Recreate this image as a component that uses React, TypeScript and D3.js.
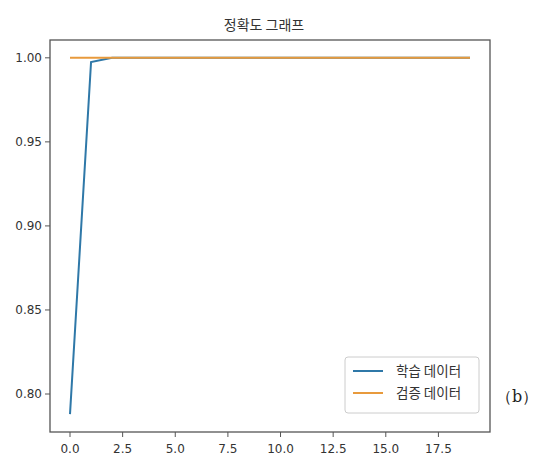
import React from "react";
import * as d3 from "d3";

const epochs = [0, 1, 2, 3, 4, 5, 6, 7, 8, 9, 10, 11, 12, 13, 14, 15, 16, 17, 18, 19];
const trainAcc = [0.788, 0.9975, 1.0, 1.0, 1.0, 1.0, 1.0, 1.0, 1.0, 1.0, 1.0, 1.0, 1.0, 1.0, 1.0, 1.0, 1.0, 1.0, 1.0, 1.0];
const valAcc = [1.0, 1.0, 1.0, 1.0, 1.0, 1.0, 1.0, 1.0, 1.0, 1.0, 1.0, 1.0, 1.0, 1.0, 1.0, 1.0, 1.0, 1.0, 1.0, 1.0];
const xTicks = [0, 2.5, 5, 7.5, 10, 12.5, 15, 17.5];
const yTicks = [0.8, 0.85, 0.9, 0.95, 1.0];
const seriesNames = ["학습 데이터", "검증 데이터"];
const title = "정확도 그래프";

const W = 537, H = 464;
const L = 50, R = 490, T = 40, B = 432;

export default function App() {
  const allY = [...trainAcc, ...valAcc];
  const yMin = d3.min(allY)!, yMax = d3.max(allY)!;
  const yPad = (yMax - yMin) * 0.05;
  const xMin = d3.min(epochs)!, xMax = d3.max(epochs)!;
  const xPad = (xMax - xMin) * 0.05;
  const x = d3.scaleLinear().domain([xMin - xPad, xMax + xPad]).range([L, R]);
  const y = d3.scaleLinear().domain([yMin - yPad, yMax + yPad]).range([B, T]);
  const line = d3.line<number>().x((_, i) => x(epochs[i])).y((d) => y(d));
  const colors = ["#2f78a8", "#e89a3c"];
  const font = "'DejaVu Sans', sans-serif";
  const kfont = "'Noto Sans CJK KR', sans-serif";
  return (
    <svg width={W} height={H} style={{ position: "absolute", left: 0, top: 0, background: "#fff" }}>
      <text x={(L + R) / 2 - 6} y={30} textAnchor="middle" fontFamily={kfont} fontSize={14} fill="#333">{title}</text>
      <path d={line(trainAcc)!} fill="none" stroke={colors[0]} strokeWidth={2} />
      <path d={line(valAcc)!} fill="none" stroke={colors[1]} strokeWidth={2} />
      <rect x={L} y={T} width={R - L} height={B - T} fill="none" stroke="#555" strokeWidth={1.3} />
      {yTicks.map((t) => (
        <g key={t}>
          <line x1={L - 5} x2={L} y1={y(t)} y2={y(t)} stroke="#555" />
          <text x={L - 8} y={y(t)} dy="0.35em" textAnchor="end" fontFamily={font} fontSize={12} fill="#333">{t.toFixed(2)}</text>
        </g>
      ))}
      {xTicks.map((t) => (
        <g key={t}>
          <line x1={x(t)} x2={x(t)} y1={B} y2={B + 5} stroke="#555" />
          <text x={x(t)} y={B + 21} textAnchor="middle" fontFamily={font} fontSize={12} fill="#333">{t.toFixed(1)}</text>
        </g>
      ))}
      <rect x={345} y={357} width={134} height={56} rx={3} fill="#fff" fillOpacity={0.85} stroke="#ccc" />
      {seriesNames.map((n, i) => (
        <g key={n}>
          <line x1={353} x2={383} y1={371 + i * 22} y2={371 + i * 22} stroke={colors[i]} strokeWidth={2} />
          <text x={396} y={371 + i * 22} dy="0.35em" fontFamily={kfont} fontSize={13.5} fill="#333">{n}</text>
        </g>
      ))}
      <text x={517} y={402} textAnchor="middle" fontFamily="'DejaVu Serif', serif" fontSize={16} fill="#222">（b）</text>
    </svg>
  );
}
